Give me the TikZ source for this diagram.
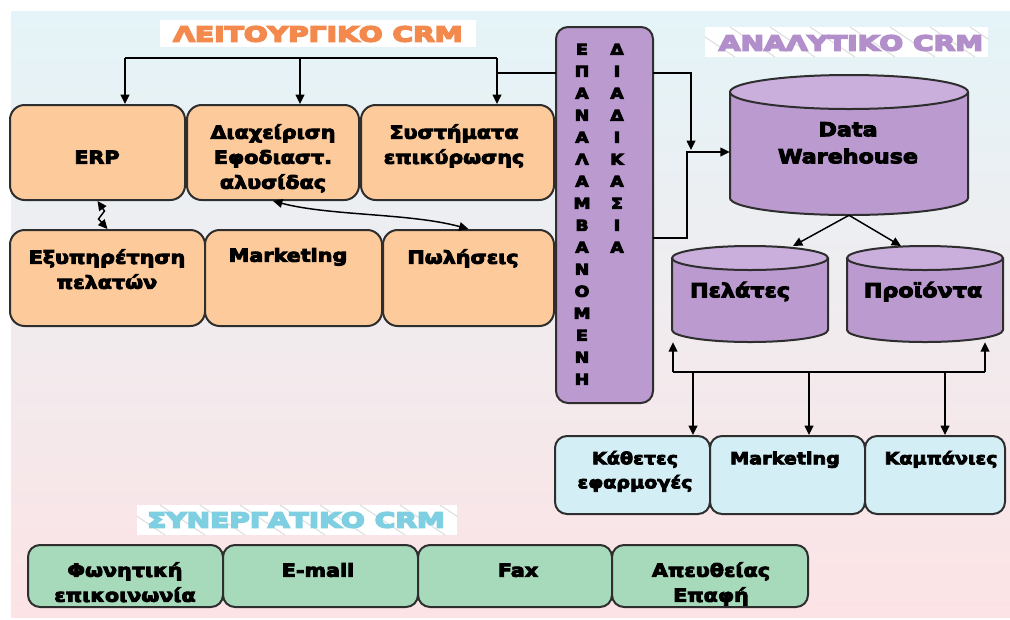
\documentclass[tikz,border=0pt]{standalone}
\usepackage{fontspec}
\setmainfont{DejaVu Sans}
% heavy, slightly widened sans faces for the labels and headings
\font\lblM="DejaVu Sans Bold:extend=1.15;embolden=5" at 13.5pt
\font\lblS="DejaVu Sans Bold:extend=1.15;embolden=5" at 12.5pt
\font\lblD="DejaVu Sans Bold:extend=1.15;embolden=5" at 14.5pt
\font\lblB="DejaVu Sans Bold:extend=1.15;embolden=6" at 11.25pt
\font\ttlf="DejaVu Sans Bold:extend=1.36;embolden=8" at 15.5pt
\newcommand\setM{\lblM\baselineskip=18.75pt\relax}
\newcommand\setS{\lblS\baselineskip=18pt\relax}
\newcommand\setD{\lblD\baselineskip=20.25pt\relax}
\newcommand\setB{\lblB\baselineskip=16.5pt\relax}
\usetikzlibrary{arrows.meta, fit, calc}

\definecolor{bgtop}{HTML}{E4F4F8}
\definecolor{bgmid}{HTML}{F2F1F2}
\definecolor{bgbot}{HTML}{FCE3E5}
\definecolor{peach}{HTML}{FDCB9B}
\definecolor{lilac}{HTML}{BA9ACF}
\definecolor{lilactop}{HTML}{CAAEDC}
\definecolor{ice}{HTML}{D3EEF4}
\definecolor{mint}{HTML}{A7D9BB}
\definecolor{edge}{HTML}{2E2E2E}
\definecolor{ttlorange}{HTML}{F3894C}
\definecolor{ttlpurple}{HTML}{B28ECB}
\definecolor{ttlcyan}{HTML}{7ECFE2}

% first-line strut so that text nodes hang from a fixed top
\newcommand\fs[1][12pt]{\rule{0pt}{#1}}

\begin{document}
\begin{tikzpicture}[x=0.75pt, y=-0.75pt,
  panel/.style={draw=edge, line width=1.5pt, rounded corners=11pt, inner sep=0pt},
  op/.style={panel, fill=peach},
  an/.style={panel, fill=ice, rounded corners=9pt},
  co/.style={panel, fill=mint, rounded corners=9pt},
  txt/.style={anchor=north, inner sep=0pt, align=center, font=\setM},
  smalltxt/.style={txt, font=\setS},
  drumtxt/.style={txt, font=\setD},
  bartxt/.style={txt, font=\setB},
  ttltxt/.style={anchor=base, inner sep=0pt, font=\ttlf},
  ttlbox/.style={fill=white, inner sep=0pt},
  hatch/.style={draw=black!13, line width=0.8pt},
  wire/.style={draw=black, line width=1.1pt},
  arr/.style={wire, -{Triangle[length=7pt,width=6.5pt]}},
  dbl/.style={wire, {Triangle[length=7pt,width=6.5pt]}-{Triangle[length=7pt,width=6.5pt]}},
  hide/.style={inner sep=0pt}
]
\useasboundingbox (0,0) rectangle (1010,619);
\shade[top color=bgtop, middle color=bgmid, bottom color=bgbot] (11,11) rectangle (1010,617);

% ---- section titles
\node[ttlbox, fit={(160,20) (476,47)}] (t1box) {};
\node[ttltxt, text=ttlorange] (t1) at (318,41.5) {ΛΕΙΤΟΥΡΓΙΚΟ CRM};

\node[ttlbox, fit={(705,27) (988,57)}] (t2box) {};
\begin{scope}
  \clip (t2box.south west) rectangle (t2box.north east);
  \foreach \u in {690,730,...,990} \draw[hatch] (\u,27) -- ++(45,30);
\end{scope}
\node[ttltxt, text=ttlpurple] (t2) at (851,50.5) {ΑΝΑΛΥΤΙΚΟ CRM};

\node[ttlbox, fit={(137,505) (457,535)}] (t3box) {};
\begin{scope}
  \clip (t3box.south west) rectangle (t3box.north east);
  \foreach \u in {120,160,...,460} \draw[hatch] (\u,505) -- ++(45,30);
\end{scope}
\node[ttltxt, text=ttlcyan] (t3) at (296,527.5) {ΣΥΝΕΡΓΑΤΙΚΟ CRM};

% ---- operational CRM
\node[op, fit={(10,105) (185,200)}] (erp) {};
\node[op, fit={(187,105) (359,200)}] (scm) {};
\node[op, fit={(361,105) (554,200)}] (auth) {};
\node[op, fit={(10,230) (205,326)}] (care) {};
\node[op, fit={(205,230) (382,326)}] (mkt) {};
\node[op, fit={(383,230) (554,326)}] (sales) {};

\node[txt] (erpT) at (97,147.5) {\fs ERP};
\node[txt] (scmT) at (273,122.5) {\fs Διαχείριση\\Εφοδιαστ.\\αλυσίδας};
\node[txt] (authT) at (454,122.5) {\fs Συστήματα\\επικύρωσης};
\node[txt] (careT) at (107,247.5) {\fs Εξυπηρέτηση\\πελατών};
\node[txt] (mktT) at (288,245.5) {\fs Marketing};
\node[txt] (salesT) at (463,247.5) {\fs Πωλήσεις};

% ---- repeated process bar
\node[panel, fill=lilac, rounded corners=9pt, fit={(556,27) (653,403)}] (bar) {};
\node[bartxt] (barL) at (582,41.5) {\fs[9.75pt]Ε\\Π\\Α\\Ν\\Α\\Λ\\Α\\Μ\\Β\\Α\\Ν\\Ο\\Μ\\Ε\\Ν\\Η};
\node[bartxt] (barR) at (617,41.5) {\fs[9.75pt]Δ\\Ι\\Α\\Δ\\Ι\\Κ\\Α\\Σ\\Ι\\Α};

% ---- analytical CRM: data stores
\fill[lilac] (730,92) -- (730,198) arc[start angle=180, end angle=360, x radius=89.25pt, y radius=12.75pt] -- (968,92) -- cycle;
\draw[draw=edge, line width=1.5pt] (730,92) -- (730,198) arc[start angle=180, end angle=360, x radius=89.25pt, y radius=12.75pt] -- (968,92);
\draw[draw=edge, line width=1.5pt, fill=lilactop] (849,92) ellipse [x radius=89.25pt, y radius=12.75pt];
\node[hide, fit={(730,75) (968,215)}] (dw) {};
\node[drumtxt] (dwT) at (848,120) {\fs Data\\Warehouse};

\fill[lilac] (672,258) -- (672,330) arc[start angle=180, end angle=360, x radius=58.5pt, y radius=9pt] -- (828,258) -- cycle;
\draw[draw=edge, line width=1.5pt] (672,258) -- (672,330) arc[start angle=180, end angle=360, x radius=58.5pt, y radius=9pt] -- (828,258);
\draw[draw=edge, line width=1.5pt, fill=lilactop] (750,258) ellipse [x radius=58.5pt, y radius=9pt];
\node[hide, fit={(672,246) (828,342)}] (pel) {};
\node[drumtxt] (pelT) at (740,281) {\fs Πελάτες};

\fill[lilac] (847,258) -- (847,330) arc[start angle=180, end angle=360, x radius=58.5pt, y radius=9pt] -- (1003,258) -- cycle;
\draw[draw=edge, line width=1.5pt] (847,258) -- (847,330) arc[start angle=180, end angle=360, x radius=58.5pt, y radius=9pt] -- (1003,258);
\draw[draw=edge, line width=1.5pt, fill=lilactop] (925,258) ellipse [x radius=58.5pt, y radius=9pt];
\node[hide, fit={(847,246) (1003,342)}] (pro) {};
\node[drumtxt] (proT) at (923,281) {\fs Προϊόντα};

% ---- analytical CRM: applications
\node[an, fit={(555,436) (710,514)}] (vert) {};
\node[an, fit={(710,436) (865,514)}] (amkt) {};
\node[an, fit={(865,436) (1005,514)}] (camp) {};
\node[smalltxt] (vertT) at (635,448) {\fs Κάθετες\\εφαρμογές};
\node[smalltxt] (amktT) at (785,448) {\fs Marketing};
\node[smalltxt] (campT) at (941,448) {\fs Καμπάνιες};

% ---- collaborative CRM
\node[co, fit={(28,545) (223,607)}] (voice) {};
\node[co, fit={(223,545) (418,607)}] (email) {};
\node[co, fit={(418,545) (612,607)}] (fax) {};
\node[co, fit={(612,545) (808,607)}] (direct) {};
\node[txt] (voiceT) at (125,560.5) {\fs Φωνητική\\επικοινωνία};
\node[txt] (emailT) at (318,560.5) {\fs E-mail};
\node[txt] (faxT) at (518,560.5) {\fs Fax};
\node[txt] (directT) at (711,560.5) {\fs Απευθείας\\Επαφή};

% ---- connectors: feedback into operational systems
\coordinate (j1) at (125,58);
\coordinate (j2) at (300,58);
\coordinate (j3) at (497,58);
\draw[wire] (j1) -- (j3);
\draw[arr] (j1) -- (j1 |- erp.north);
\draw[arr] (j2) -- (j2 |- scm.north);
\draw[arr] (j3) -- (j3 |- auth.north);
\coordinate (f1) at (556,73);
\draw[wire] (f1) -- (f1 -| j3);

\draw[dbl] (erp.south) -- ++(7,10) -- ++(-6,8) -- (care.north);
\draw[dbl] (scm.south) .. controls (330,216) and (410,213) .. (sales.north);

% ---- connectors: into the data warehouse
\coordinate (r1) at (653,73);
\coordinate (r2) at (691,73);
\coordinate (r3) at (691,150);
\draw[arr] (r1) -- (r2) -- (r3);
\coordinate (s1) at (653,238);
\coordinate (s2) at (687,238);
\coordinate (s3) at (687,152);
\draw[arr] (s1) -- (s2) -- (s3) -- (s3 -| dw.west);

\coordinate (pin) at (793,246);
\coordinate (qin) at (901,246);
\draw[arr] (dw.south) -- (pin);
\draw[arr] (dw.south) -- (qin);

% ---- connectors: stores to applications
\coordinate (h1) at (673,372);
\coordinate (h2) at (985,372);
\draw[wire] (h1) -- (h2);
\draw[arr] (h1) -- (h1 |- pel.south);
\draw[arr] (h2) -- (h2 |- pro.south);
\coordinate (d1) at (693,372);
\coordinate (d2) at (809,372);
\coordinate (d3) at (945,372);
\draw[arr] (d1) -- (d1 |- vert.north);
\draw[arr] (d2) -- (d2 |- amkt.north);
\draw[arr] (d3) -- (d3 |- camp.north);
\end{tikzpicture}
\end{document}
